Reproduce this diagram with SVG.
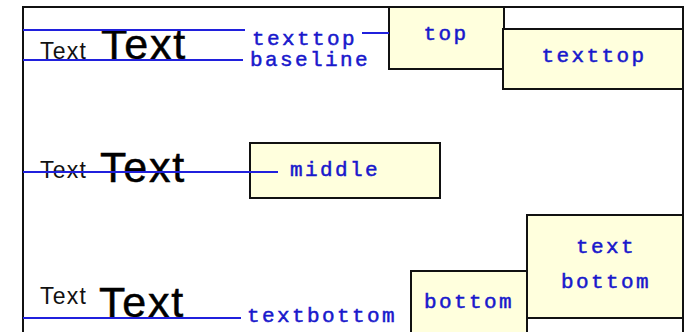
<svg xmlns="http://www.w3.org/2000/svg" width="686" height="332" viewBox="0 0 686 332">
<style>
.bg{fill:#ffffff}
.frame{fill:none;stroke:#111111;stroke-width:2}
.box{fill:#ffffdd;stroke:#111111;stroke-width:2}
.guide{stroke:#2020dd;stroke-width:2;fill:none}
.lbl{font-family:"Liberation Mono","Courier New",monospace;font-size:21px;fill:#1818cc;stroke:#1818cc;stroke-width:0.5;letter-spacing:2.4px}
.sm{font-family:"Liberation Sans",Arial,sans-serif;font-size:23px;fill:#111111;letter-spacing:1.2px}
.big{font-family:"Liberation Sans",Arial,sans-serif;font-size:43px;fill:#000000;stroke:#000000;stroke-width:0.5;letter-spacing:1.8px}
</style>
<rect class="bg" x="0" y="0" width="686" height="332"/>
<path class="frame" d="M23,340 V7 H683 V340"/>
<g id="row-top">
<text class="sm" x="40" y="59">Text</text>
<text class="big" x="101" y="59">Text</text>
</g>
<g id="row-middle">
<text class="sm" x="40" y="178">Text</text>
<text class="big" x="100" y="182">Text</text>
</g>
<g id="row-bottom">
<text class="sm" x="40" y="304">Text</text>
<text class="big" x="99" y="317">Text</text>
</g>
<g id="label-texttop"><text class="lbl" x="252" y="45">texttop</text></g>
<g id="label-baseline"><text class="lbl" x="250" y="66">baseline</text></g>
<g id="label-textbottom"><text class="lbl" x="247" y="322">textbottom</text></g>
<g id="box-top">
<rect class="box" x="389" y="7" width="115" height="62"/>
<text class="lbl" x="446" y="40" text-anchor="middle">top</text>
</g>
<g id="box-texttop">
<rect class="box" x="503" y="29" width="180" height="60"/>
<text class="lbl" x="594" y="62" text-anchor="middle">texttop</text>
</g>
<g id="box-middle">
<rect class="box" x="250" y="143" width="190" height="55"/>
<text class="lbl" x="290" y="176">middle</text>
</g>
<g id="box-bottom">
<rect class="box" x="411" y="271" width="116" height="70"/>
<text class="lbl" x="469" y="308" text-anchor="middle">bottom</text>
</g>
<g id="box-textbottom">
<rect class="box" x="527" y="215" width="156" height="103"/>
<text class="lbl" x="606" y="253" text-anchor="middle">text</text>
<text class="lbl" x="606" y="288" text-anchor="middle">bottom</text>
</g>
<g id="connectors">
<line class="guide" x1="23" y1="30" x2="245" y2="30"/>
<line class="guide" x1="23" y1="60" x2="243" y2="60"/>
<line class="guide" x1="362" y1="33" x2="389" y2="33"/>
<line class="guide" x1="23" y1="172" x2="278" y2="172"/>
<line class="guide" x1="23" y1="318" x2="241" y2="318"/>
</g>
</svg>
